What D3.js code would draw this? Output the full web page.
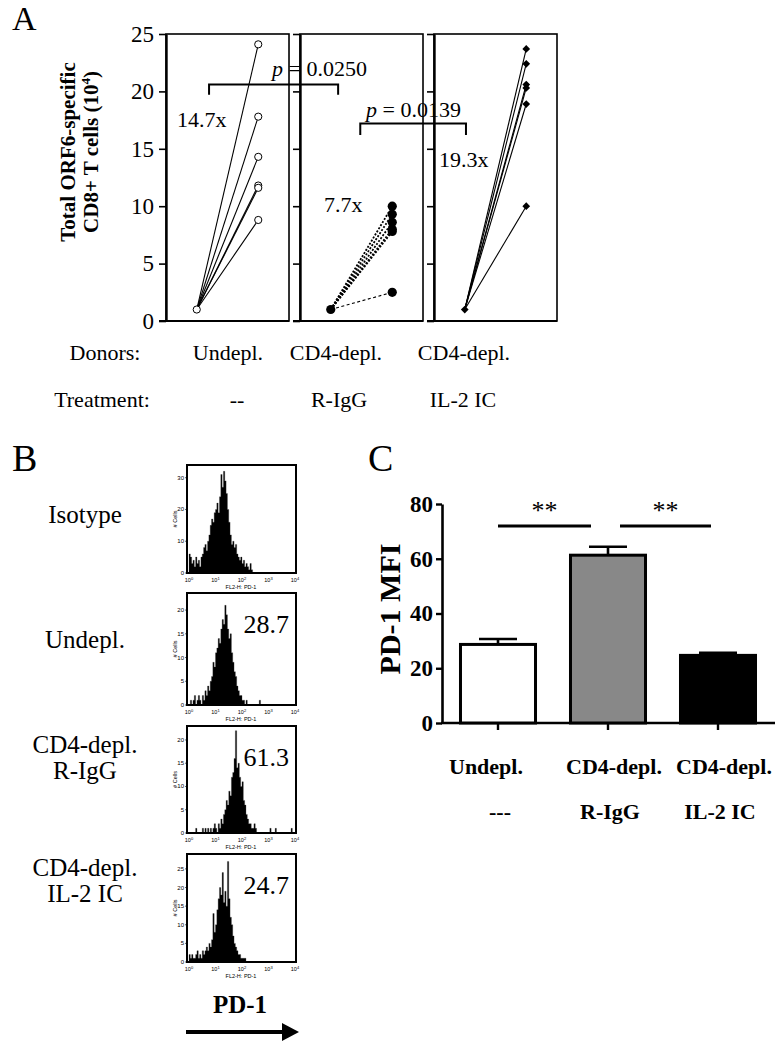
<!DOCTYPE html>
<html><head><meta charset="utf-8">
<script src="https://cdn.jsdelivr.net/npm/d3@7"></script>
<style>body{margin:0;background:#fff}svg{display:block}</style>
</head><body>
<svg id="c" width="781" height="1050"></svg>
<script>
// ---------- DATA ----------
const groupsA = ["Undepl.", "CD4-depl. R-IgG", "CD4-depl. IL-2 IC"];
const startA = [1, 1, 1];
const undeplEnd = [24.1, 17.8, 14.3, 11.8, 11.6, 8.8];
const riggEnd = [10.0, 9.3, 8.6, 8.0, 7.8, 2.5];
const il2End = [23.7, 22.4, 20.6, 20.3, 18.9, 10.0];
const foldLabels = ["14.7x", "7.7x", "19.3x"];
const yTicksA = [0, 5, 10, 15, 20, 25];
const pValues = ["0.0250", "0.0139"];
const donorsRow = ["Donors:", "Undepl.", "CD4-depl.", "CD4-depl."];
const treatRow = ["Treatment:", "--", "R-IgG", "IL-2 IC"];

const histNames = [["Isotype"], ["Undepl."], ["CD4-depl.", "R-IgG"], ["CD4-depl.", "IL-2 IC"]];
const histMFI = [null, "28.7", "61.3", "24.7"];
const histIso = [6,5,3,4,2,5,3,4,2,5,6,8, 9,7,10,12,15,17,16,19,20,22,19,24, 31,27,32,29,25,20,16,12, 9,10,8,9,6,5,4,5, 3,4,2,3,2,1,3,1];
const histUndepl = [0,1,0,1,2,0,1,2,1,0,2,1, 3,2,4,3,5,6,9,8,11,12,14,13, 16,18,17,21,19,16,14,15,11,9,7,6, 4,3,2,2,1,1,0,1,0,0,0,0, 0,0,0,0,0,1];
const histRigg = [0,0,0,0,0,1,0,0,0,0,1,0, 1,0,1,0,1,0,1,2,1,0,2,1, 3,2,4,5,7,6,9,8,12,13,16,22, 14,15,12,10,11,7,6,4,3,2,2,1, 1,2,1,0,0,0,0,0,0,0,0,0, 0,1,0,0,0,1,0,0,0,0,0,0, 0,0,0,0,0,1,0,0];
const histIl2 = [2,1,2,1,1,2,3,1,2,1,3,2, 3,4,3,5,4,6,13,8,10,14,17,20, 18,24,16,19,15,27,17,12,10,7,5,4, 3,2,2,1,1,1,1,0,0,0,0,0];
const histYMax = [34, 23.6, 23, 29];
const histYTicks = [[0,10,20,30],[0,5,10,15,20],[0,5,10,15,20],[0,5,10,15,20,25]];
const histDecades = [0, 1, 2, 3, 4];
const binWidthDec = 0.05;

const barIds = ["undepl", "rigg", "il2"];
const barDonors = ["Undepl.", "CD4-depl.", "CD4-depl."];
const barTreat = ["---", "R-IgG", "IL-2 IC"];
const barMeans = [28.7, 61.3, 24.7];
const barUpper = [30.7, 64.4, 25.6];
const barYTicks = [0, 20, 40, 60, 80];
const sigLabels = ["**", "**"];

// ---------- SETUP ----------
const serif = '"Liberation Serif","Times New Roman",Times,serif';
const sans = '"Liberation Sans",Arial,Helvetica,sans-serif';
const svg = d3.select("#c");
function txt(x, y, s, size, opts = {}) {
  return svg.append("text").attr("x", x).attr("y", y).text(s)
    .attr("font-family", opts.family || serif).attr("font-size", size)
    .attr("font-weight", opts.bold ? "bold" : "normal")
    .attr("text-anchor", opts.anchor || "start").attr("fill", "#000");
}

// ---------- PANEL A ----------
txt(12, 30, "A", 34);
const yA = d3.scaleLinear().domain([0, 25]).range([321, 34]);
const xA = d3.scaleBand().domain(groupsA).range([166, 557]).paddingInner(0.082);
const bw = xA.bandwidth();
const xIn = d3.scaleLinear().domain([0, 1]).range([0, bw]);
const seriesA = [undeplEnd, riggEnd, il2End];

groupsA.forEach((g, gi) => {
  const x0 = xA(g);
  const gp = svg.append("g").attr("transform", `translate(${x0},0)`);
  gp.append("rect").attr("x", 0).attr("y", yA(25)).attr("width", bw)
    .attr("height", yA(0) - yA(25)).attr("fill", "none").attr("stroke", "#000").attr("stroke-width", 1.6);
  const ax = d3.axisLeft(yA).tickValues(yTicksA).tickSize(7).tickSizeOuter(0).tickPadding(5);
  if (gi > 0) ax.tickFormat(() => "");
  const axg = gp.append("g").call(ax).attr("font-family", serif).attr("font-size", 23);
  axg.select(".domain").attr("stroke-width", 2.4);
  axg.selectAll(".tick line").attr("stroke-width", 1.6);
  axg.selectAll("text").attr("fill", "#000");
  gp.append("line").attr("x1", -7).attr("x2", bw).attr("y1", yA(0)).attr("y2", yA(0))
    .attr("stroke", "#000").attr("stroke-width", 2.2);

  const vals = seriesA[gi];
  vals.forEach((v, i) => {
    const ln = gp.append("line")
      .attr("x1", xIn(0.25)).attr("y1", yA(startA[gi]))
      .attr("x2", xIn(0.75)).attr("y2", yA(v))
      .attr("stroke", "#000");
    if (gi === 1) {
      if (i === vals.length - 1) ln.attr("stroke-width", 1.1).attr("stroke-dasharray", "3,2.5");
      else ln.attr("stroke-width", 1.8).attr("stroke-dasharray", "2,1.6");
    } else ln.attr("stroke-width", 1.1);
  });
  const pts = [[0.25, startA[gi]]].concat(vals.map(v => [0.75, v]));
  pts.forEach(p => {
    if (gi === 0) {
      gp.append("circle").attr("cx", xIn(p[0])).attr("cy", yA(p[1])).attr("r", 3.6)
        .attr("fill", "#fff").attr("stroke", "#000").attr("stroke-width", 1);
    } else if (gi === 1) {
      gp.append("circle").attr("cx", xIn(p[0])).attr("cy", yA(p[1])).attr("r", 4.6).attr("fill", "#000");
    } else {
      gp.append("path").attr("d", d3.symbol(d3.symbolSquare, 30)())
        .attr("transform", `translate(${xIn(p[0])},${yA(p[1])}) rotate(45)`).attr("fill", "#000");
    }
  });
});

// fold labels
txt(177, yA(16.9), foldLabels[0], 22);
txt(324, yA(9.5), foldLabels[1], 22);
txt(439, yA(13.4), foldLabels[2], 22);

// brackets
function bracket(xa, xb, yTop, yEnd) {
  svg.append("path").attr("d", `M${xa},${yA(yEnd)}V${yA(yTop)}H${xb}V${yA(yEnd)}`)
    .attr("fill", "none").attr("stroke", "#000").attr("stroke-width", 2);
}
const b1a = xA(groupsA[0]) + xIn(0.35), b1b = xA(groupsA[1]) + xIn(0.31);
const b2a = xA(groupsA[1]) + xIn(0.49), b2b = xA(groupsA[2]) + xIn(0.26);
bracket(b1a, b1b, 20.6, 19.7);
bracket(b2a, b2b, 17.2, 16.2);
function pText(x, y, v) {
  const t = svg.append("text").attr("x", x).attr("y", y).attr("font-family", serif).attr("font-size", 22).attr("fill", "#000");
  t.append("tspan").attr("font-style", "italic").text("p");
  t.append("tspan").text(" = " + v);
}
pText(272, yA(21.3), pValues[0]);
pText(366, yA(17.8), pValues[1]);

// y label A
const yl = svg.append("g").attr("transform", "translate(0,152) rotate(-90)");
yl.append("text").attr("x", 0).attr("y", 75).attr("text-anchor", "middle").attr("font-family", serif)
  .attr("font-size", 21).attr("font-weight", "bold").text("Total ORF6-specific");
const yl2 = yl.append("text").attr("x", 0).attr("y", 98).attr("text-anchor", "middle").attr("font-family", serif)
  .attr("font-size", 21).attr("font-weight", "bold");
yl2.append("tspan").text("CD8+ T cells (10");
yl2.append("tspan").attr("font-size", 13).attr("dy", -8).text("4");
yl2.append("tspan").attr("dy", 8).text(")");

// row labels
const donorX = [105, 228, 336, 464];
const treatX = [102, 237, 339, 463];
donorsRow.forEach((s, i) => txt(donorX[i], 360, s, 22, { anchor: "middle" }));
treatRow.forEach((s, i) => txt(treatX[i], 407, s, 22, { anchor: "middle" }));

// ---------- PANEL B ----------
txt(12, 471, "B", 38);
const hists = [histIso, histUndepl, histRigg, histIl2];
const histTop = [465, 593, 726, 854];
const histBottom = [573, 705, 833, 962];
const xH = d3.scaleLinear().domain([0, 4]).range([189, 295]);
hists.forEach((h, hi) => {
  const yH = d3.scaleLinear().domain([0, histYMax[hi]]).range([histBottom[hi], histTop[hi]]);
  const data = h.map((v, i) => [i * binWidthDec, v]).concat([[h.length * binWidthDec, 0]]);
  svg.append("path").datum(data)
    .attr("d", d3.area().curve(d3.curveStepAfter).x(d => xH(d[0])).y0(yH(0)).y1(d => yH(d[1])))
    .attr("fill", "#000").attr("stroke", "#333").attr("stroke-width", 0.3);
  svg.append("rect").attr("x", 187).attr("y", histTop[hi]).attr("width", 109)
    .attr("height", histBottom[hi] - histTop[hi]).attr("fill", "none").attr("stroke", "#000").attr("stroke-width", 2);
  histYTicks[hi].forEach(t => {
    svg.append("line").attr("x1", 185).attr("x2", 187).attr("y1", yH(t)).attr("y2", yH(t)).attr("stroke", "#000").attr("stroke-width", 0.6);
    txt(184, yH(t) + 2, String(t), 6, { family: sans, anchor: "end" });
  });
  histDecades.forEach(d => {
    const t = svg.append("text").attr("x", xH(d)).attr("y", histBottom[hi] + 9).attr("text-anchor", "middle")
      .attr("font-family", sans).attr("font-size", 5.5).attr("fill", "#000");
    t.append("tspan").text("10");
    t.append("tspan").attr("font-size", 4).attr("dy", -2.5).text(String(d));
  });
  txt(241, histBottom[hi] + 16, "FL2-H: PD-1", 5.5, { family: sans, anchor: "middle" });
  svg.append("text").attr("transform", `translate(177,${(histTop[hi] + histBottom[hi]) / 2}) rotate(-90)`)
    .attr("text-anchor", "middle").attr("font-family", sans).attr("font-size", 5.5).text("# Cells");
  if (histMFI[hi]) txt(289, histTop[hi] + 40, histMFI[hi], 26, { anchor: "end" });
});
const nameBase = [[523], [648], [753, 779], [876, 902]];
histNames.forEach((lines, i) => lines.forEach((s, j) => txt(85, nameBase[i][j], s, 25, { anchor: "middle" })));
txt(240, 1013, "PD-1", 25, { bold: true, anchor: "middle" });
svg.append("line").attr("x1", 186).attr("x2", 284).attr("y1", 1032).attr("y2", 1032).attr("stroke", "#000").attr("stroke-width", 4);
svg.append("path").attr("d", "M282,1023L299,1032L282,1041Z").attr("fill", "#000");

// ---------- PANEL C ----------
txt(368, 471, "C", 38);
const yC = d3.scaleLinear().domain([0, 80]).range([723, 504]);
const xC = d3.scaleBand().domain(barIds).range([443, 773]).paddingInner(0.318).paddingOuter(0.159);
const cAx = svg.append("g").attr("transform", "translate(442,0)")
  .call(d3.axisLeft(yC).tickValues(barYTicks).tickSize(6).tickSizeOuter(0).tickPadding(3))
  .attr("font-family", serif).attr("font-size", 23).attr("font-weight", "bold");
cAx.select(".domain").attr("stroke-width", 2.6);
cAx.selectAll(".tick line").attr("stroke-width", 2.4);
cAx.selectAll("text").attr("fill", "#000");
svg.append("line").attr("x1", 441).attr("x2", 775).attr("y1", yC(0)).attr("y2", yC(0)).attr("stroke", "#000").attr("stroke-width", 2.6);
barIds.forEach(id => {
  const cx = xC(id) + xC.bandwidth() / 2;
  svg.append("line").attr("x1", cx).attr("x2", cx).attr("y1", yC(0)).attr("y2", yC(0) + 7).attr("stroke", "#000").attr("stroke-width", 2.4);
});
const barFill = ["#ffffff", "#888888", "#000000"];
barIds.forEach((id, i) => {
  const cx = xC(id) + xC.bandwidth() / 2;
  svg.append("line").attr("x1", cx).attr("x2", cx).attr("y1", yC(barMeans[i])).attr("y2", yC(barUpper[i])).attr("stroke", "#000").attr("stroke-width", 2.6);
  svg.append("line").attr("x1", cx - 19).attr("x2", cx + 19).attr("y1", yC(barUpper[i])).attr("y2", yC(barUpper[i])).attr("stroke", "#000").attr("stroke-width", 2.6);
  svg.append("rect").attr("x", xC(id)).attr("y", yC(barMeans[i])).attr("width", xC.bandwidth())
    .attr("height", yC(0) - yC(barMeans[i])).attr("fill", barFill[i]).attr("stroke", "#000").attr("stroke-width", 3);
});
const cc = barIds.map(id => xC(id) + xC.bandwidth() / 2);
const sigLines = [[cc[0], cc[1] - 17], [cc[1] + 12, cc[2] - 7]];
sigLines.forEach((s, i) => {
  svg.append("line").attr("x1", s[0]).attr("x2", s[1]).attr("y1", yC(72)).attr("y2", yC(72)).attr("stroke", "#000").attr("stroke-width", 3);
  txt((s[0] + s[1]) / 2, 519, sigLabels[i], 26, { anchor: "middle" });
});
svg.append("text").attr("transform", "translate(400,609) rotate(-90)").attr("text-anchor", "middle")
  .attr("font-family", serif).attr("font-size", 30).attr("font-weight", "bold").text("PD-1 MFI");
barDonors.forEach((s, i) => txt(cc[i] + (i === 0 ? -12 : 6), 774, s, 22, { bold: true, anchor: "middle" }));
barTreat.forEach((s, i) => txt(cc[i] + 2, 819, s, 22, { bold: true, anchor: "middle" }));
</script>
</body></html>
